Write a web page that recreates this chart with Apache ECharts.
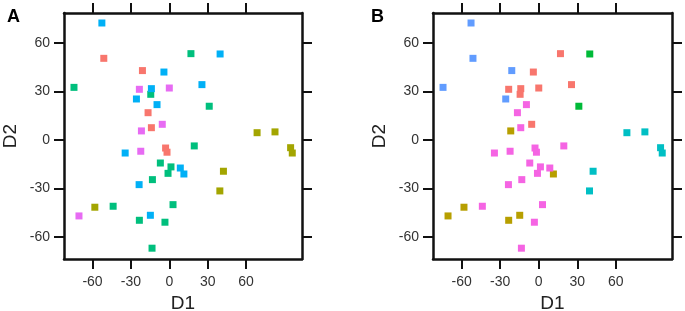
<!DOCTYPE html>
<html>
<head>
<meta charset="utf-8">
<script src="https://cdn.jsdelivr.net/npm/echarts@6/dist/echarts.min.js"></script>
<style>
  html, body { margin: 0; padding: 0; background: #fff; }
  #chart { width: 685px; height: 311px; }
</style>
</head>
<body>
<div id="chart"></div>
<script>
// point coordinates (same points in both panels)
const d1 = [-52.7, -51.2, -74.5, -21.0, -4.2, 16.9, 39.7, -23.4, -14.0, -14.5, 0.0, -25.7, 25.5, -9.6, 31.2,
  -16.6, -5.5, -14.0, -21.8, 68.6, 82.6, 94.8, 96.1, 19.5, -2.9, -1.8, -22.3, -34.5, -7.0, 1.3,
  8.6, 11.4, -1.0, -13.2, 42.3, -23.6, 39.5, -70.6, -58.2, -43.9, 2.9, -14.8, -23.4, -3.4, -13.5];
const d2 = [72.5, 50.6, 32.6, 43.0, 42.1, 53.5, 53.3, 31.4, 31.8, 28.3, 32.2, 25.4, 34.3, 21.9, 20.9,
  16.9, 9.7, 7.6, 5.6, 4.5, 5.0, -4.8, -8.1, -3.7, -5.0, -7.6, -7.0, -8.1, -14.3, -16.7,
  -17.4, -21.1, -20.7, -24.6, -19.4, -27.7, -31.6, -47.1, -41.7, -41.1, -40.1, -46.7, -49.8, -51.0, -67.1];

// cluster of each point in panel A (5 clusters) and panel B (6 clusters)
const groupA = [4, 1, 3, 1, 4, 3, 4, 5, 4, 3, 5, 4, 4, 4, 3, 1, 5, 1, 5, 2, 2, 2, 2, 3, 1, 1, 5, 4, 3, 3,
  4, 4, 3, 3, 2, 4, 2, 5, 2, 3, 3, 4, 3, 3, 3];
const groupB = [5, 5, 5, 5, 1, 1, 3, 1, 1, 1, 1, 5, 1, 6, 3, 6, 1, 6, 2, 4, 4, 4, 4, 6, 6, 6, 6, 6, 6, 6,
  6, 2, 6, 6, 4, 6, 4, 2, 2, 6, 6, 2, 2, 6, 6];

const colorsA = ['#F8766D', '#A3A500', '#00BF7D', '#00B0F6', '#E76BF3'];
const colorsB = ['#F8766D', '#B79F00', '#00BA38', '#00BFC4', '#619CFF', '#F564E3'];

const xTicks = [-60, -30, 0, 30, 60];
const yTicks = [-60, -30, 0, 30, 60];

const chart = echarts.init(document.getElementById('chart'));

const FONT = '"Liberation Sans", Arial, sans-serif';
const lineStyle = { color: '#111', width: 2.5 };
const tickStyle = { color: '#111', width: 2 };

function xAxes(gi) {
  const base = {
    type: 'value', gridIndex: gi, min: -82.3, max: 103.7,
    splitLine: { show: false },
    axisLine: { show: true, onZero: false, lineStyle: lineStyle },
    axisTick: { show: true, inside: false, length: 10, lineStyle: tickStyle, customValues: xTicks }
  };
  return [
    Object.assign({}, base, {
      position: 'bottom', name: 'D1', nameLocation: 'middle', nameGap: 32,
      nameTextStyle: { fontFamily: FONT, fontSize: 19, color: '#222' },
      axisLabel: { show: true, margin: 16, fontFamily: FONT, fontSize: 14, color: '#333', customValues: xTicks }
    }),
    Object.assign({}, base, { position: 'top', axisLabel: { show: false } })
  ];
}

function yAxes(gi) {
  const base = {
    type: 'value', gridIndex: gi, min: -73.8, max: 78.7,
    splitLine: { show: false },
    axisLine: { show: true, onZero: false, lineStyle: lineStyle },
    axisTick: { show: true, inside: false, length: 10, lineStyle: tickStyle, customValues: yTicks }
  };
  return [
    Object.assign({}, base, {
      position: 'left', name: 'D2', nameLocation: 'middle', nameGap: 44, nameRotate: 90,
      nameTextStyle: { fontFamily: FONT, fontSize: 19, color: '#222' },
      axisLabel: { show: true, margin: 14, fontFamily: FONT, fontSize: 14, color: '#333', customValues: yTicks }
    }),
    Object.assign({}, base, { position: 'right', axisLabel: { show: false } })
  ];
}

function makeSeries(groups, colors, axisIdx) {
  return colors.map((c, k) => ({
    type: 'scatter',
    xAxisIndex: axisIdx, yAxisIndex: axisIdx,
    symbol: 'rect', symbolSize: 7,
    itemStyle: { color: c, opacity: 1 },
    data: d1.map((x, i) => [x, d2[i], groups[i]]).filter(p => p[2] === k + 1)
  }));
}

const option = {
  animation: false,
  title: [
    { text: 'A', left: 2, top: 3, textStyle: { fontFamily: FONT, fontSize: 18, fontWeight: 'bold', color: '#000' } },
    { text: 'B', left: 366, top: 3, textStyle: { fontFamily: FONT, fontSize: 18, fontWeight: 'bold', color: '#000' } }
  ],
  grid: [
    { left: 64, top: 13, width: 238, height: 246, outerBoundsMode: 'none', containLabel: false },
    { left: 433, top: 13, width: 239, height: 246, outerBoundsMode: 'none', containLabel: false }
  ],
  xAxis: [...xAxes(0), ...xAxes(1)],
  yAxis: [...yAxes(0), ...yAxes(1)],
  series: [...makeSeries(groupA, colorsA, 0), ...makeSeries(groupB, colorsB, 2)]
};

chart.setOption(option);
</script>
</body>
</html>
